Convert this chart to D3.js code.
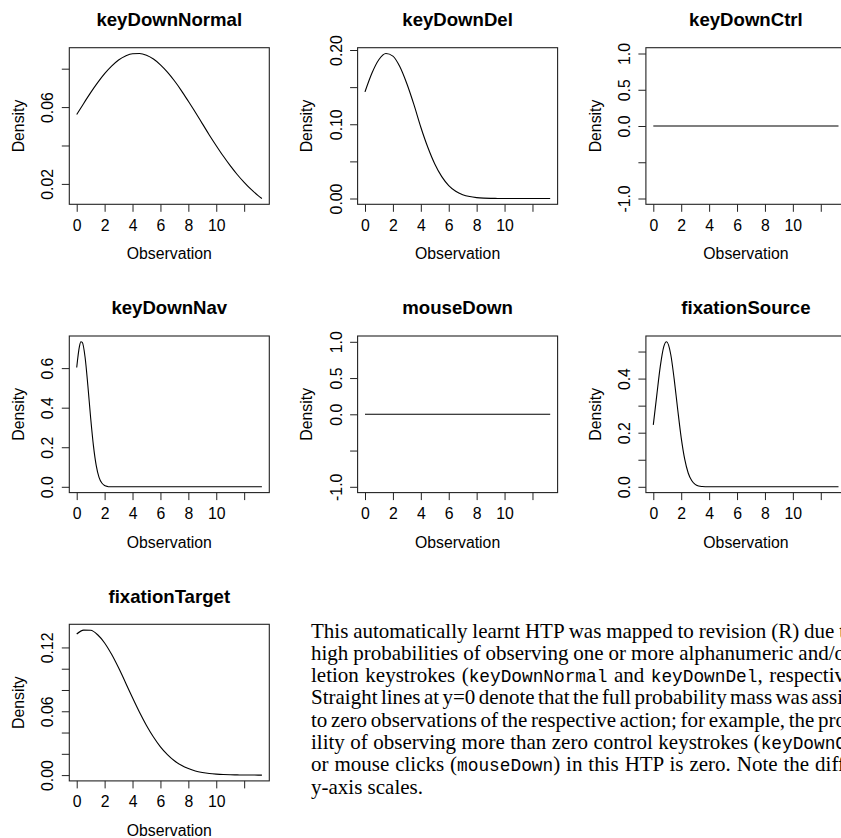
<!DOCTYPE html>
<html>
<head>
<meta charset="utf-8">
<script src="https://cdn.jsdelivr.net/npm/d3@7"></script>
<style>
  html, body { margin: 0; padding: 0; background: #fff; overflow: hidden; }
  svg { display: block; }
</style>
</head>
<body>
<svg id="fig" width="841" height="838"></svg>
<script>
// ---- data -------------------------------------------------------------
const titles = ["keyDownNormal", "keyDownDel", "keyDownCtrl", "keyDownNav",
                "mouseDown", "fixationSource", "fixationTarget"];

// observation grid shared by the broad densities
const wideX = [0, 0.5, 1, 1.5, 2, 2.5, 3, 3.5, 4, 4.5, 5, 5.5, 6, 6.5, 7, 7.5,
               8, 8.5, 9, 9.5, 10, 10.5, 11, 11.5, 12, 12.5, 13, 13.27];
const keyDownNormal = [0.0561, 0.0619, 0.0675, 0.0727, 0.0774, 0.0813, 0.0845, 0.0866,
                       0.0878, 0.0879, 0.0870, 0.0850, 0.0820, 0.0782, 0.0737, 0.0686,
                       0.0630, 0.0573, 0.0514, 0.0455, 0.0399, 0.0345, 0.0295, 0.0249,
                       0.0208, 0.0171, 0.0139, 0.0124];
const keyDownDel = [0.1437, 0.1690, 0.1872, 0.1953, 0.1918, 0.1774, 0.1545, 0.1267,
                    0.0960, 0.0690, 0.0465, 0.0295, 0.0175, 0.0098, 0.0052, 0.0026,
                    0.0012, 0.0005, 0.0002, 0.0001, 0, 0, 0, 0, 0, 0, 0, 0];
const fixationTarget = [0.1326, 0.1363, 0.1361, 0.1319, 0.1242, 0.1135, 0.1008, 0.0869,
                        0.0727, 0.0591, 0.0467, 0.0358, 0.0266, 0.0193, 0.0135, 0.0092,
                        0.0061, 0.0039, 0.0025, 0.0015, 0.0009, 0.0005, 0.0003, 0.0002,
                        0.0001, 0.0001, 0, 0];

// actions that were never observed: all mass at zero
const flatX = [0, 13.27];
const keyDownCtrl = [0, 0];
const mouseDown = [0, 0];

// finer grids for the narrow densities
const navX = [0, 0.2, 0.3, 0.4, 0.6, 0.8, 1, 1.2, 1.4, 1.6, 1.8, 2, 2.2, 2.4, 2.6,
              3, 4, 6, 8, 10, 12, 13.27];
const keyDownNav = [0.603, 0.711, 0.733, 0.730, 0.655, 0.511, 0.348, 0.207, 0.107,
                    0.048, 0.019, 0.0065, 0.0019, 0.0005, 0.0001, 0, 0, 0, 0, 0, 0, 0];
const sourceX = [0, 0.25, 0.5, 0.75, 0.95, 1.25, 1.5, 1.75, 2, 2.25, 2.5, 2.75, 3,
                 3.25, 3.5, 3.75, 4, 5, 6, 8, 10, 12, 13.27];
const fixationSource = [0.229, 0.339, 0.445, 0.518, 0.536, 0.489, 0.396, 0.285, 0.181,
                        0.102, 0.051, 0.023, 0.009, 0.0031, 0.001, 0.0003, 0.0001,
                        0, 0, 0, 0, 0, 0];

// axis ticks
const xTicks = [0, 2, 4, 6, 8, 10, 12];
const xTickLabels = ["0", "2", "4", "6", "8", "10", ""];
const yTicksNormal = [0.02, 0.04, 0.06, 0.08];
const yLabelsNormal = ["0.02", "", "0.06", ""];
const yTicksDel = [0, 0.05, 0.10, 0.15, 0.20];
const yLabelsDel = ["0.00", "", "0.10", "", "0.20"];
const yTicksFlat = [-1, -0.5, 0, 0.5, 1];
const yLabelsFlat = ["-1.0", "", "0.0", "0.5", "1.0"];
const yTicksNav = [0, 0.2, 0.4, 0.6];
const yLabelsNav = ["0.0", "0.2", "0.4", "0.6"];
const yTicksSource = [0, 0.1, 0.2, 0.3, 0.4, 0.5];
const yLabelsSource = ["0.0", "", "0.2", "", "0.4", ""];
const yTicksTarget = [0, 0.02, 0.04, 0.06, 0.08, 0.10, 0.12];
const yLabelsTarget = ["0.00", "", "", "0.06", "", "", "0.12"];

// caption lines: [text, monospace?]
const captionLines = [
  [["This automatically learnt HTP was mapped to revision (R) due to", false]],
  [["high probabilities of observing one or more alphanumeric and/or", false]],
  [["letion keystrokes (", false], ["keyDownNormal", true], [" and ", false],
   ["keyDownDel", true], [", respectively).", false]],
  [["Straight lines at y=0 denote that the full probability mass was assigned", false]],
  [["to zero observations of the respective action; for example, the proba-", false]],
  [["ility of observing more than zero control keystrokes (", false], ["keyDownCtrl", true], [")", false]],
  [["or mouse clicks (", false], ["mouseDown", true], [") in this HTP is zero. Note the different", false]],
  [["y-axis scales.", false]]
];
// justified lines: the run that reaches the column's right margin, and where it ends
const captionAnchors = ["due t", "and/o", "respectiv", "assi", "the pro", "(keyDownC", "the diff", null];
const captionAnchorEnd = [845, 845, 845, 843, 846, 846, 845, null];

// ---- layout -----------------------------------------------------------
const cell = 288.3;
const box = { left: 69.3, top: 47.7, w: 200, h: 156.6 };
const sans = "'Liberation Sans', Arial, Helvetica, sans-serif";

const panels = [
  { title: titles[0], x: wideX,   y: keyDownNormal,  yt: yTicksNormal, yl: yLabelsNormal },
  { title: titles[1], x: wideX,   y: keyDownDel,     yt: yTicksDel,    yl: yLabelsDel },
  { title: titles[2], x: flatX,   y: keyDownCtrl,    yt: yTicksFlat,   yl: yLabelsFlat },
  { title: titles[3], x: navX,    y: keyDownNav,     yt: yTicksNav,    yl: yLabelsNav },
  { title: titles[4], x: flatX,   y: mouseDown,      yt: yTicksFlat,   yl: yLabelsFlat },
  { title: titles[5], x: sourceX, y: fixationSource, yt: yTicksSource, yl: yLabelsSource },
  { title: titles[6], x: wideX,   y: fixationTarget, yt: yTicksTarget, yl: yLabelsTarget }
];

// R-style default limits: data range widened by 4% on each side
function padded(lo, hi) {
  if (lo === hi) { lo -= 1; hi += 1; }
  const d = (hi - lo) * 0.04;
  return [lo - d, hi + d];
}

const svg = d3.select("#fig");
svg.append("rect").attr("width", 841).attr("height", 838).attr("fill", "#fff");

panels.forEach((p, i) => {
  const col = i % 3, row = Math.floor(i / 3);
  const g = svg.append("g")
    .attr("transform", `translate(${col * cell},${row * cell})`);

  const x = d3.scaleLinear()
    .domain(padded(d3.min(p.x), d3.max(p.x)))
    .range([box.left, box.left + box.w]);
  const y = d3.scaleLinear()
    .domain(padded(d3.min(p.y), d3.max(p.y)))
    .range([box.top + box.h, box.top]);

  // title
  g.append("text")
    .attr("x", box.left + box.w / 2).attr("y", box.top - 21.7)
    .attr("text-anchor", "middle")
    .attr("font-family", sans).attr("font-weight", "bold").attr("font-size", 18.6)
    .attr("fill", "#000")
    .text(p.title);

  // x axis
  const xa = g.append("g")
    .attr("transform", `translate(0,${box.top + box.h})`)
    .call(d3.axisBottom(x).tickValues(xTicks).tickSize(7.5).tickPadding(0)
      .tickFormat((d, k) => xTickLabels[k]));
  xa.select(".domain").remove();
  xa.selectAll("line").attr("stroke", "#222").attr("stroke-width", 1);
  xa.selectAll("text")
    .attr("y", 26.4).attr("dy", null)
    .attr("font-family", sans).attr("font-size", 15.8).attr("fill", "#000");
  xa.attr("font-family", null).attr("font-size", null);

  // y axis
  const ya = g.append("g")
    .attr("transform", `translate(${box.left},0)`)
    .call(d3.axisLeft(y).tickValues(p.yt).tickSize(7.5)
      .tickFormat((d, k) => p.yl[k]));
  ya.select(".domain").remove();
  ya.selectAll("line").attr("stroke", "#222").attr("stroke-width", 1);
  ya.selectAll("text")
    .attr("x", null).attr("dy", null)
    .attr("transform", "translate(-16,0) rotate(-90)")
    .attr("text-anchor", "middle")
    .attr("font-family", sans).attr("font-size", 15.8).attr("fill", "#000");
  ya.attr("font-family", null).attr("font-size", null);

  // axis titles
  g.append("text")
    .attr("transform", `translate(${box.left + box.w / 2},${box.top + box.h + 55})`)
    .attr("text-anchor", "middle")
    .attr("font-family", sans).attr("font-size", 15.8).attr("fill", "#000")
    .text("Observation");
  g.append("text")
    .attr("transform", `translate(${box.left - 45.3},${box.top + box.h / 2}) rotate(-90)`)
    .attr("text-anchor", "middle")
    .attr("font-family", sans).attr("font-size", 15.8).attr("fill", "#000")
    .text("Density");

  // density curve
  const pts = p.x.map((v, k) => [v, p.y[k]]);
  g.append("path")
    .datum(pts)
    .attr("fill", "none").attr("stroke", "#000").attr("stroke-width", 1.1)
    .attr("d", d3.line().x(d => x(d[0])).y(d => y(d[1])).curve(d3.curveMonotoneX));

  // frame
  g.append("rect")
    .attr("x", box.left).attr("y", box.top).attr("width", box.w).attr("height", box.h)
    .attr("fill", "none").attr("stroke", "#222").attr("stroke-width", 1.1);
});

// caption block, justified to a right margin past the visible area
const cap = svg.append("g").attr("fill", "#000");
captionLines.forEach((segs, i) => {
  const t = cap.append("text")
    .attr("x", 311).attr("y", 637.5 + i * 22.3)
    .attr("font-family", "'Liberation Serif', 'Times New Roman', serif")
    .attr("font-size", 21);
  segs.forEach(([s, mono]) => {
    const ts = t.append("tspan").text(s);
    if (mono) ts.attr("font-family", "'Liberation Mono', 'Courier New', monospace").attr("font-size", 17.8);
  });
  const anchor = captionAnchors[i];
  if (anchor) {
    const full = segs.map(s => s[0]).join("");
    const idx = full.lastIndexOf(anchor) + anchor.length - 1;
    const endX = t.node().getEndPositionOfChar(idx).x;
    const spaces = full.slice(0, idx).split(" ").length - 1;
    t.attr("word-spacing", (captionAnchorEnd[i] - endX) / spaces);
  }
});
</script>
</body>
</html>
